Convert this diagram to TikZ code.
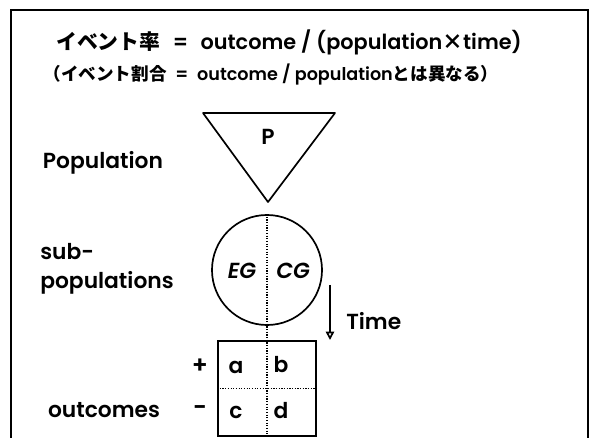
\documentclass[tikz,border=0pt]{standalone}
\usepackage{fontspec}
\setmainfont{Poppins}[BoldFont={Poppins SemiBold}, BoldItalicFont={Poppins SemiBold Italic}]
\newfontfamily\jpfont{Noto Sans CJK JP}
\usetikzlibrary{arrows.meta, positioning}

\begin{document}
\begin{tikzpicture}[x=0.025cm, y=-0.025cm,
		every node/.style={inner sep=0pt},
		headline/.style={font=\fontsize{14.8}{18}\selectfont\bfseries},
		subline/.style={font=\fontsize{12.5}{15}\selectfont\bfseries},
		lbl/.style={font=\fontsize{15.5}{21}\selectfont\bfseries},
		cell/.style={font=\fontsize{15.5}{17}\selectfont\bfseries},
		dots/.style={densely dotted, line width=0.9pt}]
		\useasboundingbox (0,0) rectangle (590,438);
		\draw[line width=1.4pt] (11,438) -- (11,10) -- (588,10) -- (588,438);  % frame, open at the bottom
		
		\node[headline] (rate) at (289,42) {{\jpfont イベント率}\hspace{0.6em}=\hspace{0.6em}outcome / (population{\jpfont ×}time)};
		\node[subline] (prop) at (271,75) {{\jpfont （イベント割合}\hspace{0.5em}=\hspace{0.5em}outcome / population{\jpfont とは異なる）}};
		
		\draw[line width=1.2pt, line join=round] (203,113) -- (335,113) -- (268,202) -- cycle;
		\node[cell] (p) at (268,137) {P};
		\node[lbl] (poplbl) at (103,163) {Population};
		
		\node[circle, draw, line width=1.2pt, minimum size=2.75cm] (grp) at (267,270) {};
		\node[cell, font=\fontsize{15.5}{17}\selectfont\bfseries\itshape] (eg) at (242,271) {EG};
		\node[cell, font=\fontsize{15.5}{17}\selectfont\bfseries\itshape] (cg) at (293,271) {CG};
		\node[lbl, align=left] (sublbl) at (107,269) {sub-\\populations};
		
		\coordinate (t0) at (330,285);
		\coordinate (t1) at (330,340);
		\draw[line width=1.2pt, -{Triangle[open, length=6pt, width=6pt]}] (t0) -- (t1);
		\node[lbl, anchor=west] (time) at (346,321) {Time};
		
		\node[draw, line width=1.2pt, minimum width=2.45cm, minimum height=2.375cm] (tab) at (267,388.5) {};
		\draw[dots] (tab.west) -- (tab.east);
		\draw[dots] (grp.north) -- (tab.south);
		\node[cell] (a) at (236,367) {a};
		\node[cell] (b) at (281,365) {b};
		\node[cell] (c) at (236,412) {c};
		\node[cell] (d) at (281,411) {d};
		\node[cell, font=\fontsize{17}{17}\selectfont\bfseries] (plus) at (200,366) {+};
		\node[cell, font=\fontsize{17}{17}\selectfont\bfseries] (minus) at (200,411) {−};
		\node[lbl] (outlbl) at (104,410) {outcomes};
	\end{tikzpicture}
\end{document}
